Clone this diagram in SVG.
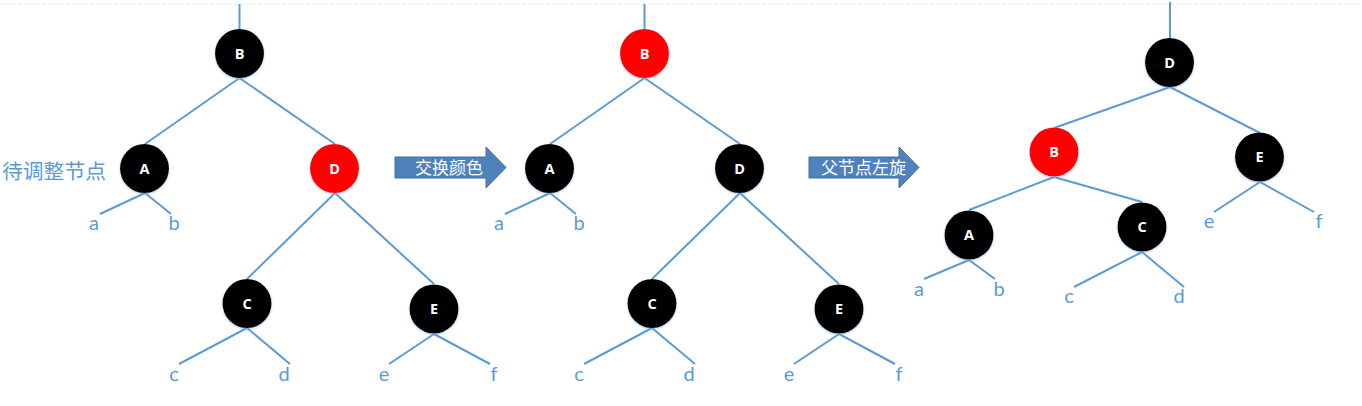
<svg xmlns="http://www.w3.org/2000/svg" width="1362" height="406" viewBox="0 0 1362 406">
<defs>
<filter id="sh" x="-30%" y="-30%" width="160%" height="160%">
<feGaussianBlur in="SourceAlpha" stdDeviation="1.2"/>
<feOffset dx="0" dy="1" result="b"/>
<feFlood flood-color="#7fa7d6" flood-opacity="0.6"/>
<feComposite in2="b" operator="in"/>
<feMerge><feMergeNode/><feMergeNode in="SourceGraphic"/></feMerge>
</filter>
</defs>
<style>
.e{stroke:#5b9bd5;stroke-width:2;fill:none}
.blk{fill:#000}
.red{fill:#ff0000}
.nl{font-family:"Open Sans","Liberation Sans",sans-serif;font-weight:bold;font-size:14.5px;fill:#fff;text-anchor:middle}
.lf{font-family:Lato,"Open Sans",sans-serif;font-size:20px;fill:#5b9bd5;text-anchor:middle}
.cn{font-family:"Noto Sans CJK SC",sans-serif}
.arr{fill:#4f81bd;stroke:#41719c;stroke-width:1}
.at{font-family:"Noto Sans CJK SC",sans-serif;font-size:17px;fill:#fff}
</style>
<rect width="1362" height="406" fill="#fff"/>
<line x1="0" y1="4" x2="1362" y2="4" stroke="#e6e6e6" stroke-width="1" stroke-dasharray="4,2"/>

<g id="connectors">
<!-- tree 1 -->
<line class="e" x1="239.5" y1="4" x2="239.5" y2="29"/>
<line class="e" x1="239.5" y1="78" x2="145" y2="144"/>
<line class="e" x1="239.5" y1="78" x2="335" y2="144"/>
<line class="e" x1="145" y1="193" x2="100" y2="214"/>
<line class="e" x1="145" y1="193" x2="171" y2="214"/>
<line class="e" x1="335" y1="193" x2="247" y2="279"/>
<line class="e" x1="335" y1="193" x2="434" y2="284"/>
<line class="e" x1="247" y1="328" x2="179" y2="364"/>
<line class="e" x1="247" y1="328" x2="290" y2="364"/>
<line class="e" x1="434" y1="334" x2="389" y2="364"/>
<line class="e" x1="434" y1="334" x2="490" y2="364"/>
<!-- tree 2 -->
<line class="e" x1="644.5" y1="4" x2="644.5" y2="29"/>
<line class="e" x1="644.5" y1="78" x2="550" y2="144"/>
<line class="e" x1="644.5" y1="78" x2="740" y2="144"/>
<line class="e" x1="550" y1="193" x2="505" y2="214"/>
<line class="e" x1="550" y1="193" x2="576" y2="214"/>
<line class="e" x1="740" y1="193" x2="652" y2="279"/>
<line class="e" x1="740" y1="193" x2="839" y2="284"/>
<line class="e" x1="652" y1="328" x2="584" y2="364"/>
<line class="e" x1="652" y1="328" x2="695" y2="364"/>
<line class="e" x1="839" y1="334" x2="794" y2="364"/>
<line class="e" x1="839" y1="334" x2="895" y2="364"/>
<!-- tree 3 -->
<line class="e" x1="1170" y1="2" x2="1170" y2="38"/>
<line class="e" x1="1170" y1="87" x2="1054" y2="128"/>
<line class="e" x1="1170" y1="87" x2="1260" y2="133"/>
<line class="e" x1="1054" y1="177" x2="969" y2="210"/>
<line class="e" x1="1054" y1="177" x2="1142" y2="202"/>
<line class="e" x1="969" y1="260" x2="924" y2="279"/>
<line class="e" x1="969" y1="260" x2="995" y2="279"/>
<line class="e" x1="1142" y1="252" x2="1074" y2="287"/>
<line class="e" x1="1142" y1="252" x2="1184" y2="287"/>
<line class="e" x1="1260" y1="182" x2="1214" y2="212"/>
<line class="e" x1="1260" y1="182" x2="1314" y2="212"/>
</g>

<!-- tree 1 nodes -->
<g id="t1-B"><circle class="blk" cx="239.5" cy="53.5" r="24.5" filter="url(#sh)"/><text class="nl" x="239.5" y="58.5">B</text></g>
<g id="t1-A"><circle class="blk" cx="144.5" cy="168.5" r="24.5" filter="url(#sh)"/><text class="nl" x="144.5" y="173.5">A</text></g>
<g id="t1-D"><circle class="red" cx="334.5" cy="168.5" r="24.5" filter="url(#sh)"/><text class="nl" x="334.5" y="173.5">D</text></g>
<g id="t1-C"><circle class="blk" cx="247" cy="303.5" r="24.5" filter="url(#sh)"/><text class="nl" x="247" y="308.5">C</text></g>
<g id="t1-E"><circle class="blk" cx="434" cy="309" r="24.5" filter="url(#sh)"/><text class="nl" x="434" y="314">E</text></g>
<g id="t1-leaves">
<text class="lf" x="94" y="230">a</text><text class="lf" x="174" y="230">b</text>
<text class="lf" x="174" y="381">c</text><text class="lf" x="284" y="381">d</text>
<text class="lf" x="384" y="381">e</text><text class="lf" x="494" y="381">f</text>
</g>
<g id="label-pending"><text class="cn" x="2" y="179" font-size="20.8" fill="#5b9bd5">待调整节点</text></g>

<!-- arrow 1 -->
<g id="arrow1">
<path class="arr" d="M395,157 H486 V147 L506,167.5 L486,188 V178 H395 Z"/>
<text class="at" x="415" y="173.5">交换颜色</text>
</g>

<!-- tree 2 nodes -->
<g id="t2-B"><circle class="red" cx="644.5" cy="53.5" r="24.5" filter="url(#sh)"/><text class="nl" x="644.5" y="58.5">B</text></g>
<g id="t2-A"><circle class="blk" cx="549.5" cy="168.5" r="24.5" filter="url(#sh)"/><text class="nl" x="549.5" y="173.5">A</text></g>
<g id="t2-D"><circle class="blk" cx="739.5" cy="168.5" r="24.5" filter="url(#sh)"/><text class="nl" x="739.5" y="173.5">D</text></g>
<g id="t2-C"><circle class="blk" cx="652" cy="303.5" r="24.5" filter="url(#sh)"/><text class="nl" x="652" y="308.5">C</text></g>
<g id="t2-E"><circle class="blk" cx="839" cy="309" r="24.5" filter="url(#sh)"/><text class="nl" x="839" y="314">E</text></g>
<g id="t2-leaves">
<text class="lf" x="499" y="230">a</text><text class="lf" x="579" y="230">b</text>
<text class="lf" x="579" y="381">c</text><text class="lf" x="689" y="381">d</text>
<text class="lf" x="789" y="381">e</text><text class="lf" x="899" y="381">f</text>
</g>

<!-- arrow 2 -->
<g id="arrow2">
<path class="arr" d="M809,157 H899 V147 L919,167.5 L899,188 V178 H809 Z"/>
<text class="at" x="821" y="173.5">父节点左旋</text>
</g>

<!-- tree 3 nodes -->
<g id="t3-D"><circle class="blk" cx="1169.5" cy="62.5" r="24.5" filter="url(#sh)"/><text class="nl" x="1169.5" y="67.5">D</text></g>
<g id="t3-B"><circle class="red" cx="1054" cy="152" r="24.5" filter="url(#sh)"/><text class="nl" x="1054" y="157">B</text></g>
<g id="t3-E"><circle class="blk" cx="1259.5" cy="157" r="24.5" filter="url(#sh)"/><text class="nl" x="1259.5" y="162">E</text></g>
<g id="t3-A"><circle class="blk" cx="969" cy="235" r="24.5" filter="url(#sh)"/><text class="nl" x="969" y="240">A</text></g>
<g id="t3-C"><circle class="blk" cx="1142" cy="227" r="24.5" filter="url(#sh)"/><text class="nl" x="1142" y="232">C</text></g>
<g id="t3-leaves">
<text class="lf" x="919" y="296">a</text><text class="lf" x="999" y="296">b</text>
<text class="lf" x="1069" y="303">c</text><text class="lf" x="1179" y="303">d</text>
<text class="lf" x="1209" y="228">e</text><text class="lf" x="1319" y="228">f</text>
</g>
</svg>
